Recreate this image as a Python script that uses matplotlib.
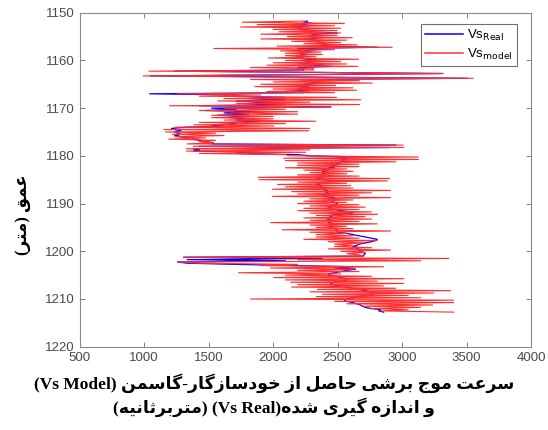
import numpy as np
import matplotlib
matplotlib.use("Agg")
import matplotlib.pyplot as plt

# --- data: shear-wave velocity log (m/s), 0.25 m sampling starting at 1151.75 m ---
depth_top = 1151.75
depth_step = 0.25

vs_real = [
    2267,
    2239, 2305, 2191, 2286,   # 1152
    2144, 2239, 2191, 2305,   # 1153
    2286, 2498, 2334, 2286,   # 1154
    2286, 2382, 2239, 2334,   # 1155
    2334, 2382, 2363, 2429,   # 1156
    2382, 2810, 2191, 2334,   # 1157
    2239, 2286, 2191, 2267,   # 1158
    2191, 2239, 2144, 2334,   # 1159
    2239, 2334, 2191, 2382,   # 1160
    2286, 2459, 2191, 2239,   # 1161
    2239, 1239, 2286, 3312,   # 1162
    2191, 1048, 2334, 3506,   # 1163
    2191, 2382, 2286, 2368,   # 1164
    2239, 2286, 2191, 2334,   # 1165
    2191, 2286, 2096, 2239,   # 1166
    1044, 1715, 1620, 2096,   # 1167
    1810, 2096, 1715, 2001,   # 1168
    1810, 2096, 1429, 2446,   # 1169
    1524, 1715, 1477, 1896,   # 1170
    1620, 1810, 1572, 1763,   # 1171
    1667, 1810, 1715, 1905,   # 1172
    1667, 1715, 1524, 1620,   # 1173
    1334, 1213, 1239, 1286,   # 1174
    1239, 1258, 1286, 1239,   # 1175
    1286, 1334, 1382, 1429,   # 1176
    1477, 1537, 1524, 2953,   # 1177
    1429, 2905, 1382, 1429,   # 1178
    1382, 1905, 1715, 2191,   # 1179
    2286, 2700, 2477, 2572,   # 1180
    2524, 2572, 2477, 2524,   # 1181
    2467, 2429, 2477, 2382,   # 1182
    2429, 2382, 2429, 2382,   # 1183
    2382, 2429, 2382, 2334,   # 1184
    2382, 2477, 2429, 2382,   # 1185
    2334, 2382, 2363, 2401,   # 1186
    2382, 2423, 2401, 2429,   # 1187
    2429, 2401, 2382, 2477,   # 1188
    2439, 2429, 2458, 2477,   # 1189
    2498, 2477, 2429, 2458,   # 1190
    2420, 2477, 2524, 2614,   # 1191
    2614, 2524, 2429, 2458,   # 1192
    2439, 2420, 2458, 2439,   # 1193
    2429, 2477, 2439, 2458,   # 1194
    2429, 2477, 2496, 2498,   # 1195
    2498, 2572, 2620, 2667,   # 1196
    2715, 2763, 2808, 2795,   # 1197
    2763, 2715, 2667, 2648,   # 1198
    2620, 2667, 2648, 2687,   # 1199
    2667, 2703, 2715, 2703,   # 1200
    2703, 1306, 2382, 1334,   # 1201
    2096, 1260, 1334, 1715,   # 1202
    2191, 2624, 2477, 2640,   # 1203
    2572, 2524, 2477, 2429,   # 1204
    2429, 2477, 2524, 2572,   # 1205
    2576, 2524, 2477, 2446,   # 1206
    2446, 2524, 2572, 2624,   # 1207
    2667, 2715, 2763, 2780,   # 1208
    2763, 2715, 2667, 2620,   # 1209
    2572, 2553, 2572, 2620,   # 1210
    2648, 2679, 2691, 2715,   # 1211
    2763, 2834, 2820, 2858,   # 1212
]

vs_model = [
    2252,
    1763, 2553, 1877, 2477,   # 1152
    1748, 2524, 2001, 2496,   # 1153
    2048, 2524, 1905, 2498,   # 1154
    2110, 2614, 1905, 2572,   # 1155
    2144, 2524, 2239, 2653,   # 1156
    2032, 2924, 1541, 2477,   # 1157
    2058, 2372, 2096, 2382,   # 1158
    2096, 2334, 1965, 2664,   # 1159
    2096, 2524, 2001, 2572,   # 1160
    1953, 2658, 1826, 2315,   # 1161
    2315, 1038, 2344, 3320,   # 1162
    2191, 994, 2096, 3552,    # 1163
    1826, 2671, 2001, 2769,   # 1164
    1905, 2486, 1858, 2620,   # 1165
    2001, 2648, 1953, 2477,   # 1166
    1258, 1905, 1430, 2492,   # 1167
    1620, 2679, 1572, 2286,   # 1168
    1715, 2671, 1198, 2453,   # 1169
    1620, 2096, 1429, 2191,   # 1170
    1667, 2191, 1524, 2001,   # 1171
    1524, 2001, 1620, 2329,   # 1172
    1429, 2096, 1387, 2008,   # 1173
    1239, 2284, 1153, 2277,   # 1174
    1167, 1555, 1220, 1620,   # 1175
    1239, 1477, 1191, 1555,   # 1176
    1429, 1537, 1334, 3009,   # 1177
    1382, 3015, 1329, 2286,   # 1178
    1329, 2252, 1429, 2096,   # 1179
    2128, 3126, 2083, 3128,   # 1180
    2096, 2953, 2191, 2667,   # 1181
    2191, 2667, 2096, 2572,   # 1182
    2239, 2620, 2286, 2572,   # 1183
    2191, 2667, 1885, 2904,   # 1184
    1891, 2887, 2191, 2572,   # 1185
    2035, 2602, 2096, 2620,   # 1186
    1994, 2911, 2144, 2763,   # 1187
    2191, 2667, 1994, 2911,   # 1188
    2286, 2620, 2239, 2572,   # 1189
    2191, 2667, 2286, 2715,   # 1190
    2239, 2667, 2191, 2763,   # 1191
    2286, 2810, 2334, 2715,   # 1192
    2239, 2763, 2286, 2667,   # 1193
    1981, 2808, 2286, 2572,   # 1194
    2334, 2620, 2071, 2911,   # 1195
    2286, 2572, 2334, 2620,   # 1196
    2334, 2667, 2239, 2808,   # 1197
    2429, 2715, 2477, 2620,   # 1198
    2477, 2763, 2429, 2911,   # 1199
    2524, 2715, 2572, 2667,   # 1200
    2703, 1306, 3363, 2191,   # 1201
    3143, 1260, 1429, 2191,   # 1202
    1905, 2858, 1981, 2624,   # 1203
    2191, 2667, 1733, 2524,   # 1204
    2096, 2763, 2005, 3015,   # 1205
    2096, 2810, 2136, 3013,   # 1206
    2191, 2858, 2144, 2953,   # 1207
    2344, 3377, 2286, 3245,   # 1208
    2382, 3048, 2334, 3143,   # 1209
    1826, 3400, 2477, 3400,   # 1210
    2572, 3239, 2691, 3143,   # 1211
    2763, 3048, 2834, 3400,   # 1212
]

x_ticks = [500, 1000, 1500, 2000, 2500, 3000, 3500, 4000]
y_ticks = [1150, 1160, 1170, 1180, 1190, 1200, 1210, 1220]

xlabel_line1 = "سرعت موج برشی حاصل از خودسازگار-گاسمن"
xlabel_line2 = "و اندازه گیری شده"
unit_text = "متربرثانیه"
ylabel_text = "عمق (متر)"

# --- minimal Persian shaping (no arabic_reshaper available) ---
# iso, final, initial, medial
FORMS = {
    "ا": ("\uFE8D", "\uFE8E", None, None),
    "ب": ("\uFE8F", "\uFE90", "\uFE91", "\uFE92"),
    "ت": ("\uFE95", "\uFE96", "\uFE97", "\uFE98"),
    "ث": ("\uFE99", "\uFE9A", "\uFE9B", "\uFE9C"),
    "ج": ("\uFE9D", "\uFE9E", "\uFE9F", "\uFEA0"),
    "ح": ("\uFEA1", "\uFEA2", "\uFEA3", "\uFEA4"),
    "خ": ("\uFEA5", "\uFEA6", "\uFEA7", "\uFEA8"),
    "د": ("\uFEA9", "\uFEAA", None, None),
    "ر": ("\uFEAD", "\uFEAE", None, None),
    "ز": ("\uFEAF", "\uFEB0", None, None),
    "س": ("\uFEB1", "\uFEB2", "\uFEB3", "\uFEB4"),
    "ش": ("\uFEB5", "\uFEB6", "\uFEB7", "\uFEB8"),
    "ص": ("\uFEB9", "\uFEBA", "\uFEBB", "\uFEBC"),
    "ع": ("\uFEC9", "\uFECA", "\uFECB", "\uFECC"),
    "ق": ("\uFED5", "\uFED6", "\uFED7", "\uFED8"),
    "ل": ("\uFEDD", "\uFEDE", "\uFEDF", "\uFEE0"),
    "م": ("\uFEE1", "\uFEE2", "\uFEE3", "\uFEE4"),
    "ن": ("\uFEE5", "\uFEE6", "\uFEE7", "\uFEE8"),
    "ه": ("\uFEE9", "\uFEEA", "\uFEEB", "\uFEEC"),
    "و": ("\uFEED", "\uFEEE", None, None),
    "ی": ("\uFBFC", "\uFBFD", "\uFBFE", "\uFBFF"),
    "گ": ("\uFB92", "\uFB93", "\uFB94", "\uFB95"),
}


def shape(text):
    """Join letters and return them in visual (left-to-right) order."""
    out = []
    for i, ch in enumerate(text):
        if ch not in FORMS:
            out.append(ch)
            continue
        prev = text[i - 1] if i > 0 else ""
        nxt = text[i + 1] if i + 1 < len(text) else ""
        iso, fin, ini, med = FORMS[ch]
        join_prev = prev in FORMS and FORMS[prev][2] is not None
        join_next = nxt in FORMS and ini is not None
        if join_prev and join_next:
            out.append(med)
        elif join_prev:
            out.append(fin)
        elif join_next:
            out.append(ini)
        else:
            out.append(iso)
    vis = "".join(reversed(out))
    return vis.translate(str.maketrans("()", ")("))


depth = depth_top + depth_step * np.arange(len(vs_real))

plt.rcParams["font.family"] = ["Liberation Sans", "DejaVu Sans"]
fa_font = ["Liberation Serif", "DejaVu Sans"]

fig = plt.figure(figsize=(5.48, 4.30), dpi=100)
ax = fig.add_axes([0.1451, 0.1937, 0.9690 - 0.1451, 0.9705 - 0.1937])

ax.plot(vs_real, depth, color="#0000ff", lw=0.9, label=r"Vs$_{\mathrm{Real}}$")
ax.plot(vs_model, depth, color="#ff3030", lw=0.8, label=r"Vs$_{\mathrm{model}}$")

ax.set_xlim(500, 4000)
ax.set_ylim(1220, 1150)
ax.set_xticks(x_ticks)
ax.set_yticks(y_ticks)
ax.tick_params(direction="in", length=3.5, width=0.7, colors="#808080",
               labelcolor="#4a4a4a", labelsize=9.5, top=True, right=True)
for sp in ax.spines.values():
    sp.set_color("#8a8a8a")
    sp.set_linewidth(0.8)

leg = ax.legend(loc="upper right", bbox_to_anchor=(0.969, 0.966), borderaxespad=0,
                fontsize=9.5, handlelength=2.9, handletextpad=0.3, borderpad=0.3,
                labelspacing=0.3, fancybox=False, framealpha=1)
leg.get_frame().set_edgecolor("#707070")
leg.get_frame().set_linewidth(0.8)
for h in leg.get_lines():
    h.set_linewidth(1.1)

# axis captions (Persian, right-to-left paragraph, bold)
line1 = "(Vs Model) " + shape(xlabel_line1)
line2 = "(" + shape(unit_text) + ") (Vs Real)" + shape(xlabel_line2)
fig.text(0.50, 1 - 383 / 430, line1, ha="center", va="center",
         fontsize=12.5, fontweight="bold", family=fa_font)
fig.text(0.50, 1 - 407 / 430, line2, ha="center", va="center",
         fontsize=12.5, fontweight="bold", family=fa_font)
fig.text(23 / 548, 1 - 215 / 430, shape(ylabel_text), ha="center", va="center",
         rotation=90, fontsize=12, fontweight="bold", family=fa_font)

fig.savefig("out.png", dpi=100)
